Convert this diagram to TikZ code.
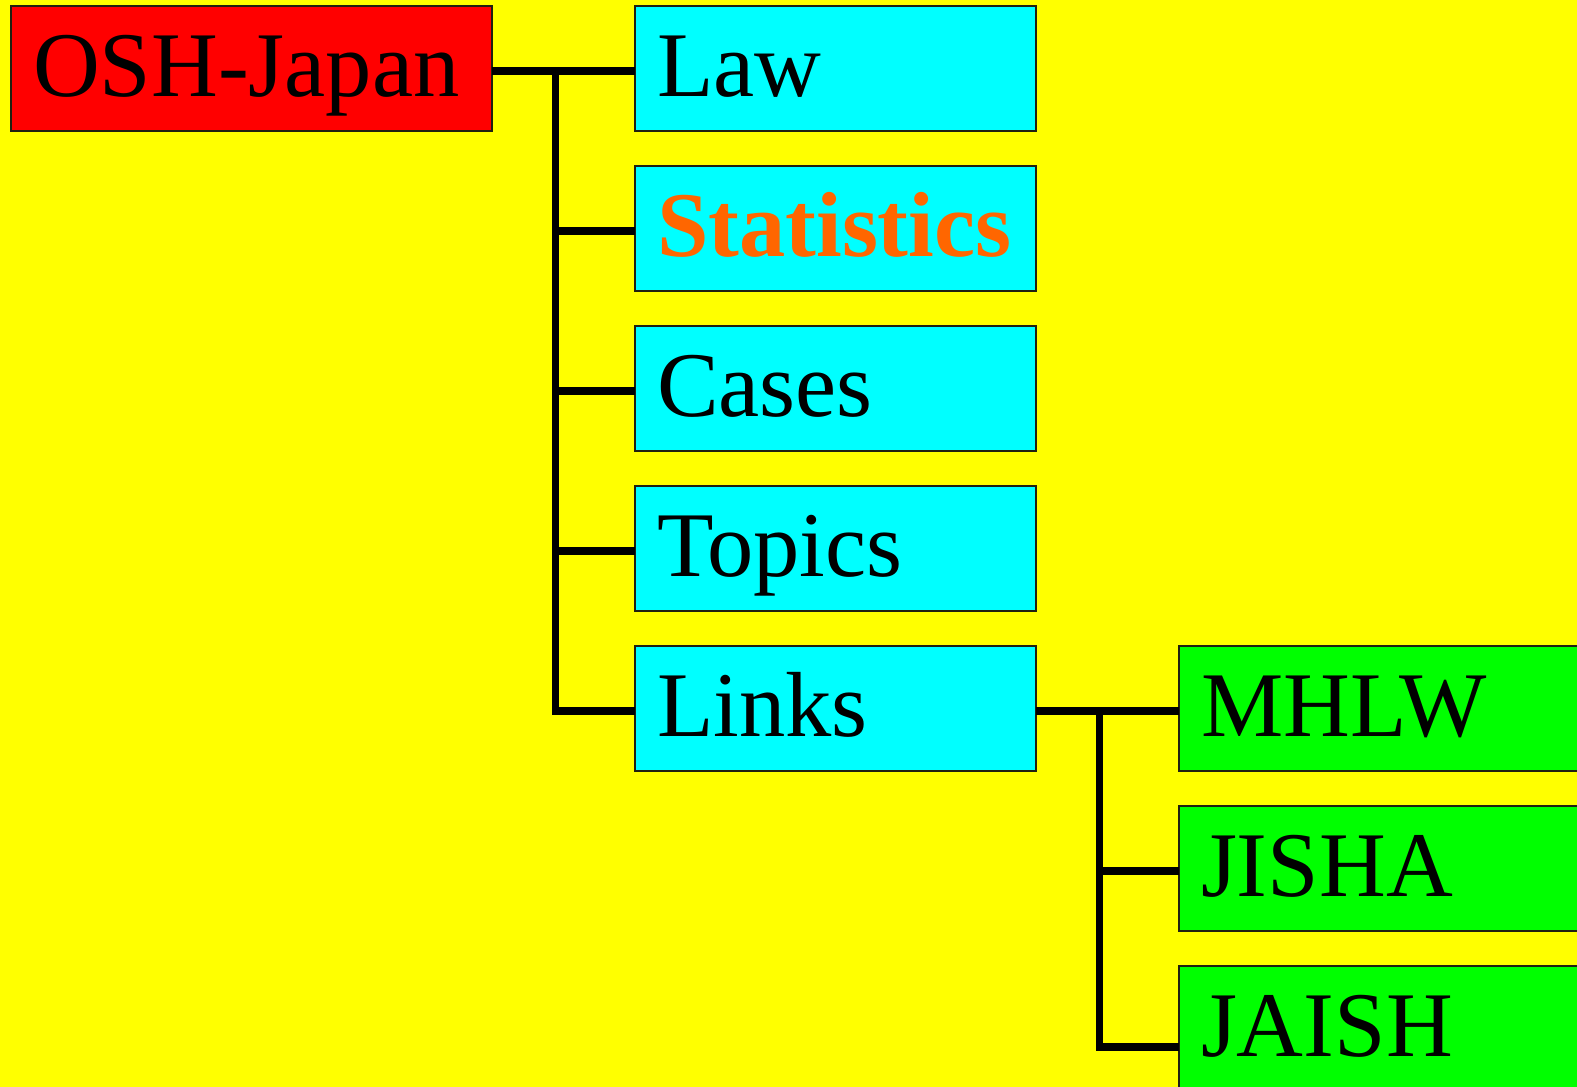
\documentclass[tikz,border=0pt]{standalone}
\usepackage{fontspec}
\setmainfont{Liberation Serif}
\definecolor{bgyellow}{HTML}{FFFF00}
\definecolor{boxred}{HTML}{FF0000}
\definecolor{boxcyan}{HTML}{00FFFF}
\definecolor{boxgreen}{HTML}{00FF00}
\definecolor{txtorange}{HTML}{FF6600}
\definecolor{edge}{HTML}{202010}
\begin{document}
\begin{tikzpicture}[x=1pt,y=-1pt,
  box/.style={draw=edge, line width=1.8pt, rectangle, anchor=center,
    minimum height=125pt, inner xsep=22pt, inner ysep=0pt, align=left,
    text height=56.4pt, text depth=0pt, outer sep=0pt,
    font=\fontsize{92.5}{100}\selectfont},
  rootbox/.style={box, fill=boxred, text width=437pt},
  midbox/.style={box, fill=boxcyan, text width=357pt},
  leafbox/.style={box, fill=boxgreen, text width=387pt},
  conn/.style={line width=7.5pt, black, line join=miter}]
\useasboundingbox (0,0) rectangle (1577,1087);
\fill[bgyellow] (0,0) rectangle (1577,1087);

\node[rootbox] (osh) at (251.5,68.5) {OSH-Japan};
\node[midbox] (law) at (835.5,68.5) {Law};
\node[midbox, line width=2.8pt, text=txtorange, font=\fontsize{92.5}{100}\selectfont\bfseries] (stat) at (835.5,228.5) {Statistics};
\node[midbox] (cases) at (835.5,388.5) {Cases};
\node[midbox] (topics) at (835.5,548.5) {Topics};
\node[midbox] (links) at (835.5,708.5) {Links};
\node[leafbox] (mhlw) at (1394.5,708.5) {MHLW};
\node[leafbox] (jisha) at (1394.5,868.5) {JISHA};
\node[leafbox] (jaish) at (1394.5,1028.5) {JAISH};

% connector attachment points (slightly below box centres, as in the original)
\coordinate (oshE) at ([yshift=-2.5pt]osh.east);
\coordinate (lawW) at ([yshift=-2.5pt]law.west);
\coordinate (statW) at ([yshift=-2.5pt]stat.west);
\coordinate (casesW) at ([yshift=-2.5pt]cases.west);
\coordinate (topicsW) at ([yshift=-2.5pt]topics.west);
\coordinate (linksW) at ([yshift=-2.5pt]links.west);
\coordinate (linksE) at ([yshift=-2.5pt]links.east);
\coordinate (mhlwW) at ([yshift=-2.5pt]mhlw.west);
\coordinate (jishaW) at ([yshift=-2.5pt]jisha.west);
\coordinate (jaishW) at ([yshift=-18.5pt]jaish.west);

\coordinate (j1) at (555.5,0);
\coordinate (j2) at (1099.5,0);

\draw[conn] (oshE) -- (lawW);
\draw[conn] (j1 |- oshE) -- (j1 |- linksW) -- (linksW);
\draw[conn] (j1 |- statW) -- (statW);
\draw[conn] (j1 |- casesW) -- (casesW);
\draw[conn] (j1 |- topicsW) -- (topicsW);

\draw[conn] (linksE) -- (mhlwW);
\draw[conn] (j2 |- mhlwW) -- (j2 |- jaishW) -- (jaishW);
\draw[conn] (j2 |- jishaW) -- (jishaW);
\end{tikzpicture}
\end{document}
